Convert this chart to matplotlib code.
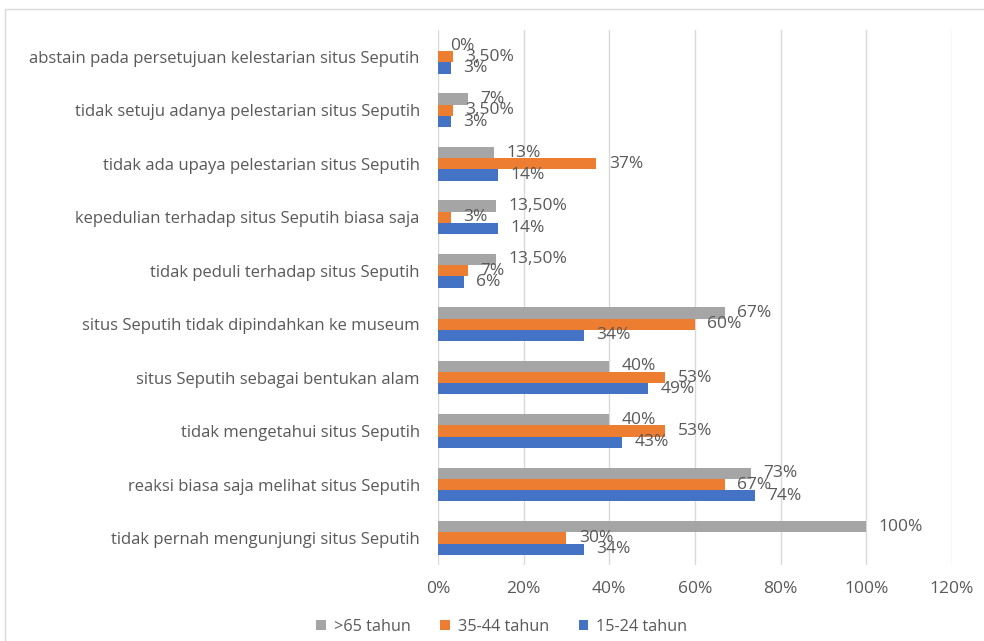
import matplotlib
matplotlib.use("Agg")
import matplotlib.pyplot as plt
import numpy as np
from matplotlib.patches import Rectangle

# categories listed bottom -> top (barh order)
categories = [
    "tidak pernah mengunjungi situs Seputih",
    "reaksi biasa saja melihat situs Seputih",
    "tidak mengetahui situs Seputih",
    "situs Seputih sebagai bentukan alam",
    "situs Seputih tidak dipindahkan ke museum",
    "tidak peduli terhadap situs Seputih",
    "kepedulian terhadap situs Seputih biasa saja",
    "tidak ada upaya pelestarian situs Seputih",
    "tidak setuju adanya pelestarian situs Seputih",
    "abstain pada persetujuan kelestarian situs Seputih",
]
over65 = [100, 73, 40, 40, 67, 13.5, 13.5, 13, 7, 0]
age35_44 = [30, 67, 53, 53, 60, 7, 3, 37, 3.5, 3.5]
age15_24 = [34, 74, 43, 49, 34, 6, 14, 14, 3, 3]

series_names = [">65 tahun", "35-44 tahun", "15-24 tahun"]
colors = ["#A5A5A5", "#ED7D31", "#4472C4"]
xticks = [0, 20, 40, 60, 80, 100, 120]


def fmt(v):
    if float(v).is_integer():
        return f"{int(v)}%"
    return f"{v:.2f}%".replace(".", ",")


plt.rcParams["font.family"] = ["Open Sans", "DejaVu Sans"]
fig = plt.figure(figsize=(9.84, 6.41), dpi=100)
ax = fig.add_axes([0.445, 0.119, 0.5225, 0.834])

y = np.arange(len(categories))
h = 0.21
offsets = [h, 0, -h]
text_col = "#595959"

for vals, name, col, off in zip([over65, age35_44, age15_24], series_names, colors, offsets):
    ax.barh(y + off, vals, height=h, color=col, label=name, zorder=3)
    for yi, v in zip(y, vals):
        ax.annotate(fmt(v), (v, yi + off), xytext=(9, 0), textcoords="offset points",
                    ha="left", va="center", fontsize=12.5, color=text_col, zorder=4)

ax.set_xlim(0, 120)
ax.set_ylim(-0.5, len(categories) - 0.5)
ax.set_xticks(xticks)
ax.set_xticklabels([f"{t}%" for t in xticks])
ax.set_yticks(y)
ax.set_yticklabels(categories, fontsize=12)
ax.tick_params(axis="both", length=0, colors=text_col)
ax.tick_params(axis="x", labelsize=12.5, pad=12)
ax.tick_params(axis="y", pad=13)
ax.grid(axis="x", color="#D9D9D9", lw=1, zorder=0)
for s in ax.spines.values():
    s.set_visible(False)

fig.legend(loc="center", bbox_to_anchor=(0.51, 0.022), ncol=3, frameon=False,
           fontsize=11.7, handlelength=0.6, handleheight=0.6, columnspacing=1.8,
           handletextpad=0.5, labelcolor=text_col)

fig.patches.append(Rectangle((5 / 984, -0.1), 1.2, 1 - 9 / 641 + 0.1,
                             transform=fig.transFigure, fill=False,
                             edgecolor="#D9D9D9", lw=1))

fig.savefig("out.png", dpi=100)
